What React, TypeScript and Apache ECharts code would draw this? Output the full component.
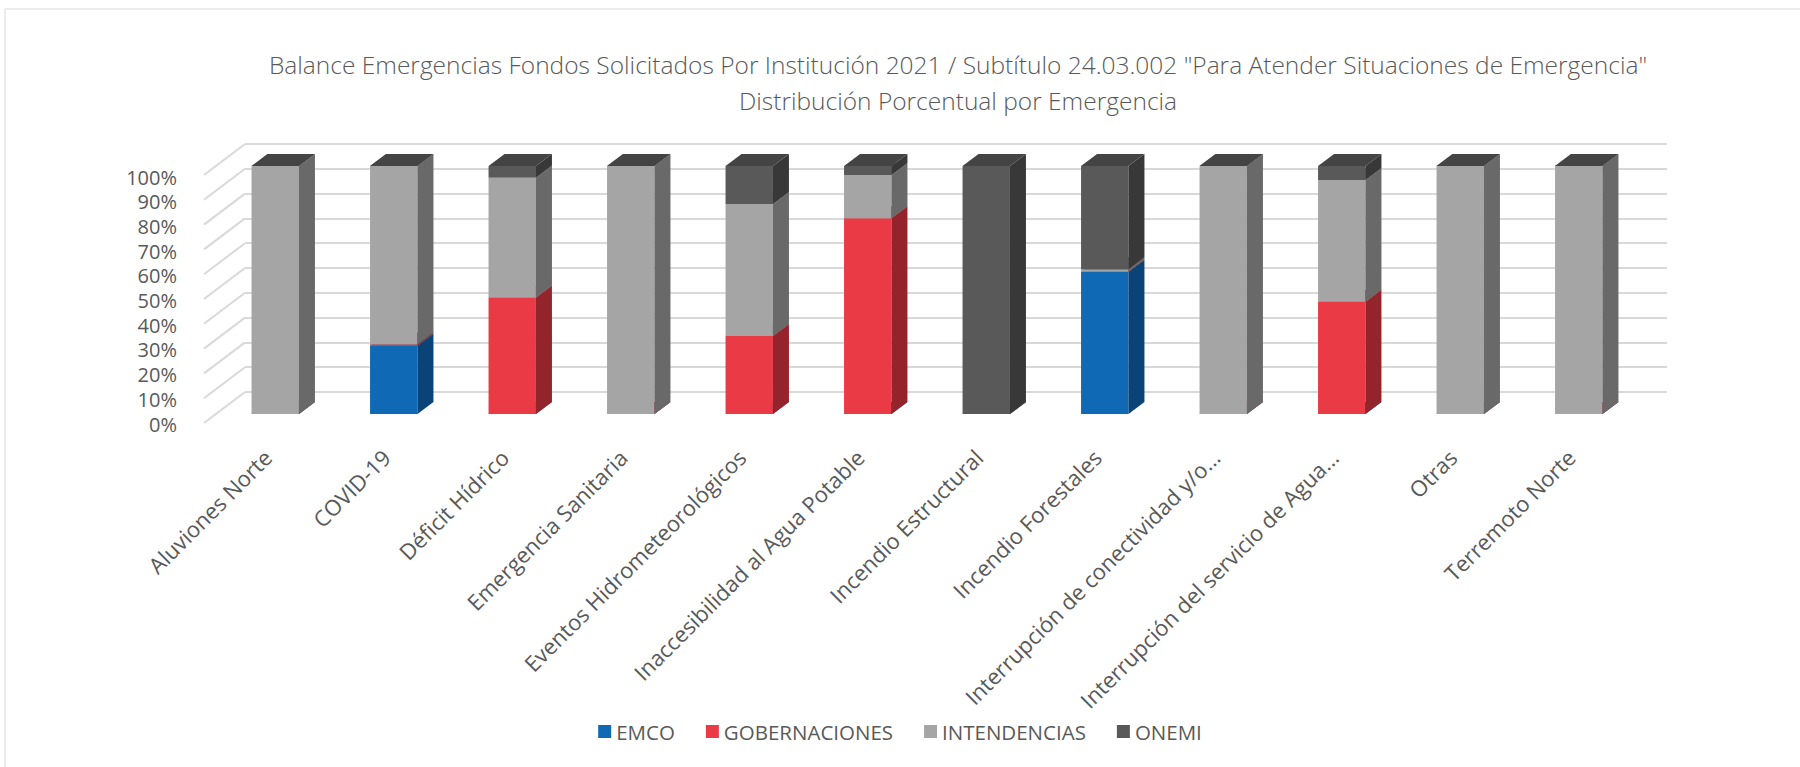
import React, { useEffect, useRef } from "react";
import * as echarts from "echarts";

const categories = [
  "Aluviones Norte",
  "COVID-19",
  "Déficit Hídrico",
  "Emergencia Sanitaria",
  "Eventos Hidrometeorológicos",
  "Inaccesibilidad al Agua Potable",
  "Incendio Estructural",
  "Incendio Forestales",
  "Interrupción de conectividad y/o...",
  "Interrupción del servicio de Agua...",
  "Otras",
  "Terremoto Norte",
];
const emco = [0, 27.5, 0, 0, 0, 0, 0, 57.4, 0, 0, 0, 0];
const gobernaciones = [0, 0.5, 47, 0, 31.5, 78.9, 0, 0, 0, 45.3, 0, 0];
const intendencias = [100, 72, 48.4, 100, 53.2, 17.5, 0, 1, 100, 49.1, 100, 100];
const onemi = [0, 0, 4.6, 0, 15.3, 3.6, 100, 41.6, 0, 5.6, 0, 0];
const seriesNames = ["EMCO", "GOBERNACIONES", "INTENDENCIAS", "ONEMI"];
const yTicks = [0, 10, 20, 30, 40, 50, 60, 70, 80, 90, 100];
const titleLines = [
  'Balance Emergencias Fondos Solicitados Por Institución 2021 / Subtítulo 24.03.002 "Para Atender Situaciones de Emergencia"',
  "Distribución Porcentual por Emergencia",
];

const FONT = "'Open Sans', 'Noto Sans', sans-serif";
const TEXT = "#595959";
const GRID = "#d9d9d9";
const COLORS = [
  { front: "#0F69B4", side: "#0A4377", top: "#0C5290" },
  { front: "#E93A46", side: "#94242C", top: "#B52D37" },
  { front: "#A5A5A5", side: "#696969", top: "#858585" },
  { front: "#595959", side: "#383838", top: "#444444" },
];
const DX = 16;
const DY = -12;
const BAR_FRAC = 0.4;

export default function App() {
  const ref = useRef<HTMLDivElement>(null);
  useEffect(() => {
    if (!ref.current) return;
    const chart = echarts.init(ref.current, undefined, { renderer: "svg" });
    const values = [emco, gobernaciones, intendencias, onemi];
    const cum = categories.map(() => 0);
    const barSeries = values.map((arr, si) => {
      const data = arr.map((v, i) => {
        const base = cum[i];
        cum[i] += v;
        return [i, base, v];
      });
      const c = COLORS[si];
      return {
        type: "custom",
        name: seriesNames[si],
        xAxisIndex: 0,
        yAxisIndex: 0,
        z: 5 + si,
        itemStyle: { color: c.front },
        encode: { x: 0, y: 2 },
        data,
        renderItem: (params: any, api: any) => {
          const cat = api.value(0);
          const base = api.value(1);
          const val = api.value(2);
          const p0 = api.coord([cat, base]);
          const p1 = api.coord([cat, base + val]);
          const w = api.size([1, 0])[0] * BAR_FRAC;
          const x0 = p0[0] - w / 2;
          const x1 = p0[0] + w / 2;
          const yb = p0[1];
          const yt = p1[1];
          const children: any[] = [];
          if (val > 0) {
            children.push({
              type: "polygon",
              shape: { points: [[x0, yb], [x1, yb], [x1, yt], [x0, yt]] },
              style: { fill: c.front },
            });
            children.push({
              type: "polygon",
              shape: { points: [[x1, yb], [x1 + DX, yb + DY], [x1 + DX, yt + DY], [x1, yt]] },
              style: { fill: c.side },
            });
          }
          children.push({
            type: "polygon",
            shape: { points: [[x0, yt], [x1, yt], [x1 + DX, yt + DY], [x0 + DX, yt + DY]] },
            style: { fill: c.top },
          });
          return { type: "group", children };
        },
      };
    });

    const wallSeries = {
      type: "custom",
      silent: true,
      xAxisIndex: 0,
      yAxisIndex: 0,
      z: 1,
      data: yTicks.map((t) => [0, t]),
      encode: { x: 0, y: 1 },
      renderItem: (params: any, api: any) => {
        const p = api.coord([0, api.value(1)]);
        const bw = api.size([1, 0])[0];
        const xs = p[0] - bw / 2;
        return {
          type: "line",
          shape: { x1: xs - 12, y1: p[1] + 9, x2: xs + 29, y2: p[1] - 22 },
          style: { stroke: GRID, lineWidth: 2 },
        };
      },
    };

    chart.setOption({
      animation: false,
      textStyle: { fontFamily: FONT },
      title: {
        text: titleLines.join("\n"),
        left: 953,
        top: 41,
        textAlign: "center",
        textStyle: {
          fontFamily: FONT,
          fontWeight: 300,
          fontSize: 24.5,
          color: TEXT,
          lineHeight: 36,
        },
      },
      legend: {
        data: seriesNames,
        left: "center",
        top: 716,
        icon: "rect",
        itemWidth: 13,
        itemHeight: 13,
        itemGap: 31,
        textStyle: { fontFamily: FONT, fontSize: 20.5, color: TEXT },
      },
      graphic: [
        {
          type: "rect",
          shape: { x: 5, y: 9, width: 1800, height: 800 },
          style: { fill: "none", stroke: GRID, lineWidth: 1 },
          silent: true,
        },
      ],
      grid: [
        { left: 216, right: 162, top: 166, bottom: 353 },
        { left: 245, right: 133, top: 144, bottom: 375 },
        { left: 204, width: 10, top: 177, bottom: 343 },
      ],
      xAxis: [
        {
          type: "category",
          gridIndex: 0,
          data: categories,
          axisLine: { show: false },
          axisTick: { show: false },
          axisLabel: {
            rotate: 45,
            interval: 0,
            margin: 47,
            verticalAlign: "bottom",
            fontSize: 22,
            color: TEXT,
            fontFamily: FONT,
          },
        },
        { type: "category", gridIndex: 1, data: categories, show: false },
        { type: "category", gridIndex: 2, data: [""], show: false },
      ],
      yAxis: [
        { type: "value", gridIndex: 0, min: 0, max: 100, interval: 10, show: false },
        {
          type: "value",
          gridIndex: 1,
          min: 0,
          max: 100,
          interval: 10,
          axisLine: { show: false },
          axisTick: { show: false },
          axisLabel: { show: false },
          splitLine: { show: true, lineStyle: { color: GRID, width: 2 } },
        },
        {
          type: "value",
          gridIndex: 2,
          min: 0,
          max: 100,
          interval: 10,
          axisLine: { show: false },
          axisTick: { show: false },
          splitLine: { show: false },
          axisLabel: {
            margin: 27,
            fontSize: 20,
            color: TEXT,
            fontFamily: FONT,
            formatter: "{value}%",
          },
        },
      ],
      series: [wallSeries, ...barSeries],
    });
    return () => chart.dispose();
  }, []);
  return (
    <div
      ref={ref}
      style={{ position: "fixed", left: 0, top: 0, width: 1800, height: 767, background: "#fff" }}
    />
  );
}
